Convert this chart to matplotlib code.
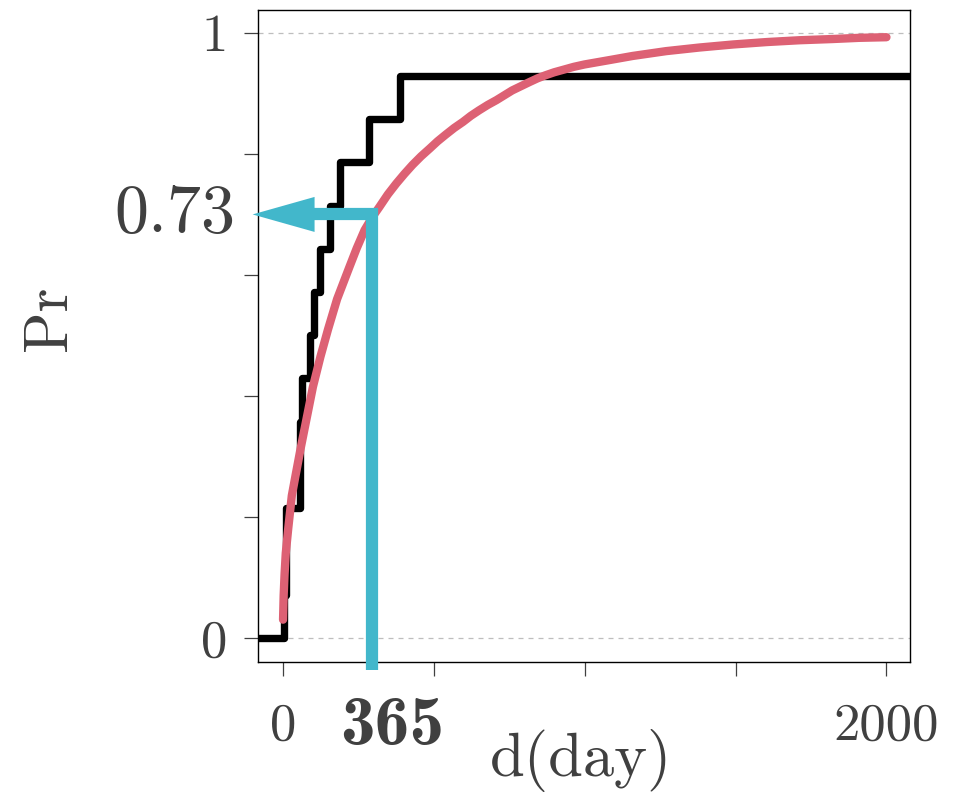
import matplotlib
matplotlib.use('Agg')
import matplotlib.pyplot as plt
from matplotlib.patches import Polygon

# ── data ────────────────────────────────────────────────────────────────────
# empirical step function (jump day -> level after the jump)
step_days = [3, 11, 56, 65, 89, 104, 122, 157, 190, 285, 389]
step_probs = [0.071, 0.214, 0.357, 0.429, 0.500, 0.571, 0.643, 0.714,
              0.786, 0.857, 0.929]

# fitted curve
curve_days = [1, 3, 6, 10, 18, 30, 43, 60, 80, 100, 125, 150, 180, 200,
              220, 245, 271, 296, 321, 348, 376, 403, 430, 458, 487, 513,
              540, 568, 597, 623, 650, 679, 708, 734, 760, 789, 818, 844,
              870, 899, 928, 964, 1000, 1080, 1159, 1270, 1381, 1492, 1603,
              1712, 1821, 1910, 2000]
curve_probs = [0.03, 0.07, 0.105, 0.14, 0.18, 0.235, 0.27, 0.315, 0.365,
               0.415, 0.465, 0.51, 0.56, 0.586, 0.612, 0.644, 0.674, 0.695,
               0.713, 0.733, 0.751, 0.767, 0.782, 0.796, 0.809, 0.821,
               0.832, 0.843, 0.853, 0.863, 0.872, 0.881, 0.889, 0.897,
               0.905, 0.912, 0.919, 0.925, 0.93, 0.935, 0.939, 0.944, 0.948,
               0.955, 0.962, 0.970, 0.976, 0.981, 0.985, 0.988, 0.99, 0.992,
               0.993]

# read-off marker
cut_day = 295
cut_prob = 0.70
cut_label = '0.73'
day_label = '365'
arrow_end = -100

x_ticks = [0, 500, 1000, 1500, 2000]
x_ticklabels = ['0', '', '', '', '2000']
y_ticks = [0, 0.2, 0.4, 0.6, 0.8, 1.0]
y_ticklabels = ['0', '', '', '', '', '1']

# ── style ───────────────────────────────────────────────────────────────────
BLACK = '#000000'
RED = '#DD6174'
CYAN = '#42B7CB'
TXT = '#404040'
GRID = '#BEBEBE'
W, H = 958, 795

fig = plt.figure(figsize=(W / 100, H / 100), dpi=100)
L, R, T, B = 258, 910, 10, 662
ax = fig.add_axes([L / W, 1 - B / H, (R - L) / W, (B - T) / H])
XLIM = (-82, 2078)
YLIM = (-0.04, 1.038)
ax.set_xlim(*XLIM)
ax.set_ylim(*YLIM)

for s in ax.spines.values():
    s.set_linewidth(1.0)
    s.set_color('black')

ax.set_xticks(x_ticks)
ax.set_xticklabels(x_ticklabels)
ax.set_yticks(y_ticks)
ax.set_yticklabels(y_ticklabels)
ax.tick_params(axis='both', length=10, width=0.9, color=TXT,
               labelcolor=TXT, labelsize=38)
ax.tick_params(axis='x', pad=19)
ax.tick_params(axis='y', pad=12)
for lab in ax.get_xticklabels() + ax.get_yticklabels():
    lab.set_fontfamily('cmr10')

# dashed reference lines at 0 and 1
for yv in (0, 1):
    ax.axhline(yv, color=GRID, lw=0.9, ls=(0, (4, 4)), zorder=1)

# step function
sx = [XLIM[0]] + step_days + [XLIM[1]]
sy = [0] + step_probs + [step_probs[-1]]
ax.step(sx, sy, where='post', color=BLACK, lw=5.3,
        solid_joinstyle='round', solid_capstyle='butt', zorder=3)

# fitted curve
ax.plot(curve_days, curve_probs, color=RED, lw=6.0,
        solid_capstyle='round', solid_joinstyle='round', zorder=4)

# cyan read-off: vertical + horizontal + arrowhead
px_day = (R - L) / (XLIM[1] - XLIM[0])
px_prob = (B - T) / (YLIM[1] - YLIM[0])
head_len = 62 / px_day
head_half = 17.5 / px_prob
y_bot = YLIM[0] - 8 / px_prob
ax.plot([arrow_end + head_len - 2, cut_day, cut_day],
        [cut_prob, cut_prob, y_bot],
        color=CYAN, lw=8.8, solid_joinstyle='miter', solid_capstyle='butt',
        clip_on=False, zorder=5)
ax.add_patch(Polygon([[arrow_end, cut_prob],
                      [arrow_end + head_len, cut_prob + head_half],
                      [arrow_end + head_len, cut_prob - head_half]],
                     closed=True, facecolor=CYAN, edgecolor='none',
                     clip_on=False, zorder=5))

# labels
ax.text(-0.035, cut_prob, cut_label, transform=ax.get_yaxis_transform(),
        ha='right', va='center', fontsize=49, color=TXT, family='cmr10')
ax.text(364, -0.052, day_label, transform=ax.get_xaxis_transform(),
        ha='center', va='top', fontsize=50, color=TXT, family='cmb10')

fig.text(581 / W, 1 - 761 / H, 'd(day)', ha='center', va='center',
         fontsize=45, color=TXT, family='cmr10')
fig.text(50 / W, 1 - 318 / H, 'Pr', ha='center', va='center', rotation=90,
         fontsize=44, color=TXT, family='cmr10')

fig.savefig('out.png', dpi=100, facecolor='white')
